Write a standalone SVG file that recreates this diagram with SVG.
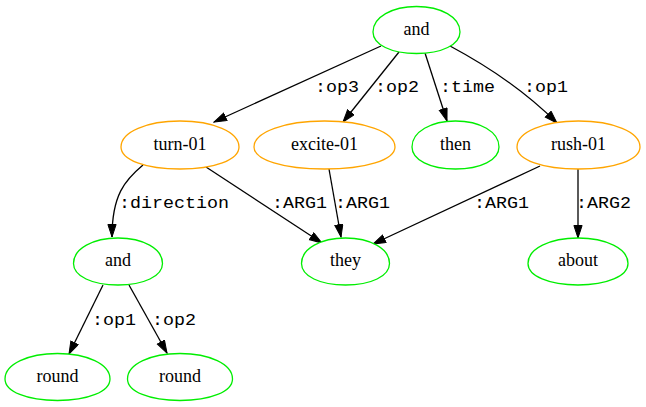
<svg xmlns="http://www.w3.org/2000/svg" width="646" height="407" viewBox="0 0 646 407">
  <defs>
    <marker id="arrow" markerUnits="userSpaceOnUse" markerWidth="14" markerHeight="10" refX="13" refY="4.6" orient="auto">
      <path d="M0.5,0.5 L13,4.6 L0.5,8.7 Z" fill="#000" stroke="#000" stroke-width="1"/>
    </marker>
  </defs>
  <style>
    .egg { fill: #fff; stroke-width: 1.3; }
    .concept { stroke: #ffa500; }
    .const { stroke: #00ee00; }
    .nlabel { font-family: "Liberation Serif", "Times New Roman", serif; font-size: 18px; fill: #000; text-anchor: middle; }
    .edge { fill: none; stroke: #000; stroke-width: 1.3; }
    .elabel { font-family: "Liberation Mono", "Courier New", monospace; font-size: 16px; fill: #000; }
  </style>
  <rect width="646" height="407" fill="#fff"/>

  <!-- connectors -->
  <g id="edges">
    <path class="edge" marker-end="url(#arrow)" d="M381,46 L214,122"/>
    <text class="elabel" x="315" y="92" textLength="44" lengthAdjust="spacingAndGlyphs">:op3</text>
    <path class="edge" marker-end="url(#arrow)" d="M399,52 L343,122"/>
    <text class="elabel" x="375" y="92" textLength="44" lengthAdjust="spacingAndGlyphs">:op2</text>
    <path class="edge" marker-end="url(#arrow)" d="M425,53 L447,121"/>
    <text class="elabel" x="440" y="92" textLength="55" lengthAdjust="spacingAndGlyphs">:time</text>
    <path class="edge" marker-end="url(#arrow)" d="M450,46 C480,62 522,88 557,123"/>
    <text class="elabel" x="524" y="92" textLength="44" lengthAdjust="spacingAndGlyphs">:op1</text>

    <path class="edge" marker-end="url(#arrow)" d="M143,165 C125,180 112,195 112,237"/>
    <text class="elabel" x="119" y="208" textLength="110" lengthAdjust="spacingAndGlyphs">:direction</text>
    <path class="edge" marker-end="url(#arrow)" d="M206,167 L322,243"/>
    <text class="elabel" x="272" y="208" textLength="55" lengthAdjust="spacingAndGlyphs">:ARG1</text>
    <path class="edge" marker-end="url(#arrow)" d="M329,169 L341,237"/>
    <text class="elabel" x="335" y="208" textLength="55" lengthAdjust="spacingAndGlyphs">:ARG1</text>
    <path class="edge" marker-end="url(#arrow)" d="M540,166 L373,244"/>
    <text class="elabel" x="474" y="208" textLength="55" lengthAdjust="spacingAndGlyphs">:ARG1</text>
    <path class="edge" marker-end="url(#arrow)" d="M578,169 L578,238"/>
    <text class="elabel" x="576" y="208" textLength="55" lengthAdjust="spacingAndGlyphs">:ARG2</text>

    <path class="edge" marker-end="url(#arrow)" d="M103,285 L69,354"/>
    <text class="elabel" x="92" y="325" textLength="44" lengthAdjust="spacingAndGlyphs">:op1</text>
    <path class="edge" marker-end="url(#arrow)" d="M129,285 L167,353"/>
    <text class="elabel" x="152" y="325" textLength="44" lengthAdjust="spacingAndGlyphs">:op2</text>
  </g>

  <!-- nodes: egg outlines, widest a little below the middle -->
  <g id="n-and">
    <path class="egg const" d="M416.5,6.5 C440.9,6.5 460,17.1 460,31.9 C460,44.6 441.7,53.5 416.5,53.5 C391.3,53.5 373,44.6 373,31.9 C373,17.1 392.1,6.5 416.5,6.5 Z"/>
    <text class="nlabel" x="416.5" y="34.5">and</text>
  </g>
  <g id="n-turn-01">
    <path class="egg concept" d="M180,121 C213,121 239,131.8 239,146.9 C239,159.9 214.2,169 180,169 C145.8,169 121,159.9 121,146.9 C121,131.8 147,121 180,121 Z"/>
    <text class="nlabel" x="180" y="149.5">turn-01</text>
  </g>
  <g id="n-excite-01">
    <path class="egg concept" d="M324.5,121 C364,121 395,131.8 395,146.9 C395,159.9 365.4,169 324.5,169 C283.6,169 254,159.9 254,146.9 C254,131.8 285,121 324.5,121 Z"/>
    <text class="nlabel" x="324.5" y="149.5">excite-01</text>
  </g>
  <g id="n-then">
    <path class="egg const" d="M455.5,121 C479.9,121 499,131.8 499,146.9 C499,159.9 480.7,169 455.5,169 C430.3,169 412,159.9 412,146.9 C412,131.8 431.1,121 455.5,121 Z"/>
    <text class="nlabel" x="455.5" y="149.5">then</text>
  </g>
  <g id="n-rush-01">
    <path class="egg concept" d="M578.5,121 C612.9,121 640,131.8 640,146.9 C640,159.9 614.2,169 578.5,169 C542.8,169 517,159.9 517,146.9 C517,131.8 544.1,121 578.5,121 Z"/>
    <text class="nlabel" x="578.5" y="149.5">rush-01</text>
  </g>
  <g id="n-and-2">
    <path class="egg const" d="M118,238 C142.9,238 162.5,248.6 162.5,263.4 C162.5,276.1 143.8,285 118,285 C92.2,285 73.5,276.1 73.5,263.4 C73.5,248.6 93.1,238 118,238 Z"/>
    <text class="nlabel" x="118" y="266">and</text>
  </g>
  <g id="n-they">
    <path class="egg const" d="M345.5,238 C370.1,238 389.5,248.6 389.5,263.4 C389.5,276.1 371,285 345.5,285 C320,285 301.5,276.1 301.5,263.4 C301.5,248.6 320.9,238 345.5,238 Z"/>
    <text class="nlabel" x="345.5" y="266">they</text>
  </g>
  <g id="n-about">
    <path class="egg const" d="M578,238 C606,238 628,248.6 628,263.4 C628,276.1 607,285 578,285 C549,285 528,276.1 528,263.4 C528,248.6 550,238 578,238 Z"/>
    <text class="nlabel" x="578" y="266">about</text>
  </g>
  <g id="n-round-1">
    <path class="egg const" d="M57.5,353.5 C86.9,353.5 110,364.1 110,378.9 C110,391.6 88,400.5 57.5,400.5 C27,400.5 5,391.6 5,378.9 C5,364.1 28.1,353.5 57.5,353.5 Z"/>
    <text class="nlabel" x="57.5" y="381.5">round</text>
  </g>
  <g id="n-round-2">
    <path class="egg const" d="M180,353.5 C209.4,353.5 232.5,364.1 232.5,378.9 C232.5,391.6 210.5,400.5 180,400.5 C149.5,400.5 127.5,391.6 127.5,378.9 C127.5,364.1 150.6,353.5 180,353.5 Z"/>
    <text class="nlabel" x="180" y="381.5">round</text>
  </g>
</svg>
